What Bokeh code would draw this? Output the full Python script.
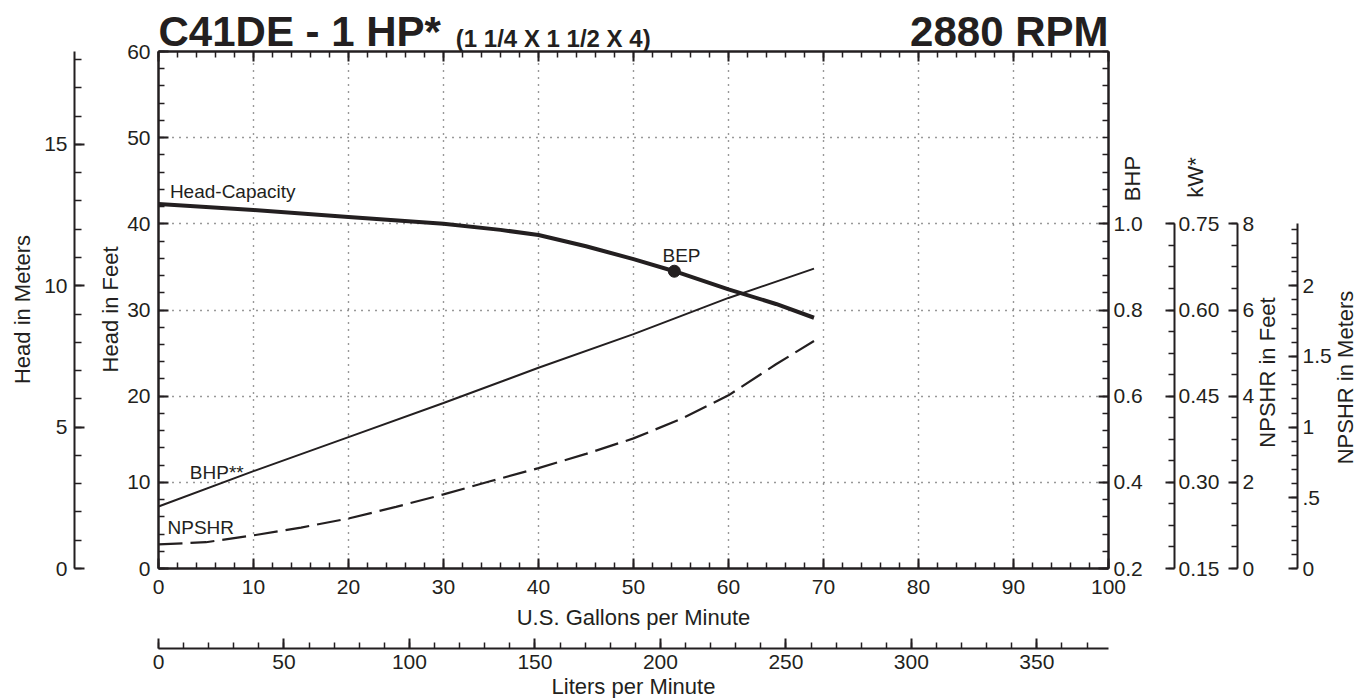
from math import pi
from bokeh.plotting import figure
from bokeh.models import LinearAxis, Range1d, FixedTicker, PrintfTickFormatter
from bokeh.embed import file_html
from bokeh.resources import INLINE
from bokeh.core.properties import value

# ---------------- data ----------------
head_gpm = [0, 10, 20, 30, 36, 40, 45, 50, 54.3, 60, 65, 69]
head_ft = [42.3, 41.6, 40.8, 40.0, 39.3, 38.7, 37.4, 35.9, 34.5, 32.4, 30.7, 29.1]

bhp_gpm = [0, 10, 20, 30, 40, 50, 60, 69]
bhp_val = [0.344, 0.426, 0.505, 0.584, 0.666, 0.744, 0.828, 0.896]

npshr_gpm = [0, 5, 10, 15, 20, 25, 30, 35, 40, 45, 50, 55, 60, 65, 69]
npshr_ft = [0.56, 0.61, 0.77, 0.95, 1.16, 1.43, 1.72, 2.03, 2.33, 2.66, 3.02, 3.47, 4.02, 4.74, 5.28]

bep_gpm = [54.3]
bep_ft = [34.5]

gpm_major = [0, 10, 20, 30, 40, 50, 60, 70, 80, 90, 100]
gpm_minor = list(range(0, 101, 2))
lpm_major = [0, 50, 100, 150, 200, 250, 300, 350]
lpm_minor = list(range(0, 371, 10))
ft_major = [0, 10, 20, 30, 40, 50, 60]
ft_minor = list(range(0, 61, 2))
m_major = [0, 5, 10, 15]
m_minor = list(range(0, 19, 1))
bhp_major = [0.2, 0.4, 0.6, 0.8, 1.0]
bhp_minor = [round(0.2 + 0.04 * i, 3) for i in range(31)]
kw_major = [0.15, 0.30, 0.45, 0.60, 0.75]
kw_minor = [round(0.15 + 0.0375 * i, 4) for i in range(17)]
nft_major = [0, 2, 4, 6, 8]
nft_minor = [0.5 * i for i in range(17)]
nm_major = [0, 0.5, 1, 1.5, 2]
nm_minor = [round(0.1 * i, 2) for i in range(25)]

FT_PER_M = 3.28084
L_PER_GAL = 3.78541

INK = "#231f20"
FONT = "Liberation Sans"

p = figure(frame_width=950, frame_height=517,
           x_range=Range1d(0, 100), y_range=Range1d(0, 60),
           output_backend="svg", toolbar_location=None,
           min_border_left=158, min_border_right=250,
           min_border_top=51, min_border_bottom=130,
           outline_line_color=None,
           background_fill_color="white", border_fill_color="white")

p.extra_y_ranges = {
    "bhp": Range1d(0.2, 1.4),
    "kw": Range1d(0.15, 1.05),
    "nft": Range1d(0, 12),
    "nm": Range1d(0, 12 / FT_PER_M),
    "m": Range1d(0, 60 / FT_PER_M),
}
p.extra_x_ranges = {"lpm": Range1d(0, 100 * L_PER_GAL)}


def style(ax, majors, minors, maj_in=10, min_in=6, standoff=6, lw=2.0, size="21px"):
    ax.ticker = FixedTicker(ticks=majors, minor_ticks=minors)
    ax.major_tick_in = maj_in
    ax.major_tick_out = 0
    ax.minor_tick_in = min_in
    ax.minor_tick_out = 0
    ax.axis_line_color = INK
    ax.axis_line_width = lw
    ax.major_tick_line_color = INK
    ax.major_tick_line_width = 2
    ax.minor_tick_line_color = INK
    ax.minor_tick_line_width = 1.5
    ax.major_label_text_font = FONT
    ax.major_label_text_font_size = size
    ax.major_label_text_color = INK
    ax.major_label_standoff = standoff


def spacer(n, **kw):
    # an empty axis whose only content is a blank 1px label pushed out by n px
    return LinearAxis(ticker=FixedTicker(ticks=[]), major_tick_out=0, major_tick_in=0,
                      minor_tick_out=0, minor_tick_in=0, axis_line_color=None,
                      major_tick_line_color=None, minor_tick_line_color=None,
                      major_label_standoff=0, axis_label=" ",
                      axis_label_standoff=n, axis_label_text_font_size="1px", **kw)


# bottom GPM axis + Liters axis
xa = p.xaxis[0]
style(xa, gpm_major, gpm_minor, standoff=11, lw=2.5)
p.add_layout(spacer(48), "below")
la = LinearAxis(x_range_name="lpm")
style(la, lpm_major, lpm_minor, maj_in=10, min_in=6, standoff=6)
p.add_layout(la, "below")

# top frame axis (ticks only)
ta = LinearAxis()
style(ta, gpm_major, gpm_minor, lw=2.5)
ta.major_label_overrides = {t: "" for t in gpm_major}
ta.major_label_standoff = 0
p.add_layout(ta, "above")

# left Feet axis + Meters axis
ya = p.yaxis[0]
style(ya, ft_major, ft_minor, standoff=8, lw=2.5)
p.add_layout(spacer(46), "left")
ma = LinearAxis(y_range_name="m")
style(ma, m_major, m_minor, maj_in=10, min_in=7, standoff=7)
p.add_layout(ma, "left")

# right axes
ba = LinearAxis(y_range_name="bhp")
style(ba, bhp_major, bhp_minor, maj_in=10, min_in=6, standoff=5, lw=2.5)
ba.formatter = PrintfTickFormatter(format="%.1f")
p.add_layout(ba, "right")
p.add_layout(spacer(25), "right")

ka = LinearAxis(y_range_name="kw", bounds=(0.15, 0.75))
style(ka, kw_major, kw_minor, maj_in=9, min_in=6, standoff=4)
ka.formatter = PrintfTickFormatter(format="%.2f")
p.add_layout(ka, "right")
p.add_layout(spacer(11), "right")

na = LinearAxis(y_range_name="nft", bounds=(0, 8))
style(na, nft_major, nft_minor, maj_in=9, min_in=6, standoff=5)
p.add_layout(na, "right")
p.add_layout(spacer(36), "right")

nma = LinearAxis(y_range_name="nm", bounds=(0, 8 / FT_PER_M))
style(nma, nm_major, nm_minor, maj_in=9, min_in=6, standoff=5)
nma.major_label_overrides = {0: "0", 0.5: ".5", 1: "1", 1.5: "1.5", 2: "2"}
p.add_layout(nma, "right")

# dotted grid
p.xgrid.ticker = FixedTicker(ticks=gpm_major[1:-1])
p.ygrid.ticker = FixedTicker(ticks=ft_major[1:-1])
for g in (p.xgrid[0], p.ygrid[0]):
    g.grid_line_color = "#333333"
    g.grid_line_width = 1.4
    g.grid_line_dash = "1 6"

# curves
p.line(head_gpm, head_ft, line_color=INK, line_width=4)
p.line(bhp_gpm, bhp_val, y_range_name="bhp", line_color=INK, line_width=2)
p.line(npshr_gpm, npshr_ft, y_range_name="nft", line_color=INK, line_width=2.2, line_dash="24 8")
p.scatter(bep_gpm, bep_ft, size=12, color=INK)


def txt(x, y, text, size="19px", bold=False, align="left", angle=0.0):
    p.text(x=[x], y=[y], text=[text], text_font=value(FONT), text_font_size=size,
           text_font_style="bold" if bold else "normal", text_color=INK,
           text_align=align, text_baseline="middle", angle=angle, level="overlay")


# curve labels
txt(1.2, 43.71, "Head-Capacity")
txt(3.3, 11.09, "BHP**")
txt(0.95, 4.71, "NPSHR")
txt(55.05, 36.28, "BEP", align="center")

# chart title
txt(0, 62.27, "C41DE - 1 HP*", size="42px", bold=True)
txt(31.3, 61.54, "(1 1/4 X 1 1/2 X 4)", size="24px", bold=True)
txt(100, 62.27, "2880 RPM", size="42px", bold=True, align="right")

# axis titles
txt(50, -5.74, "U.S. Gallons per Minute", size="22px", align="center")
txt(50, -13.69, "Liters per Minute", size="22px", align="center")
txt(-14.32, 30.06, "Head in Meters", size="22px", align="center", angle=pi / 2)
txt(-5.05, 30.06, "Head in Feet", size="22px", align="center", angle=pi / 2)
txt(102.53, 45.26, "BHP", size="22px", align="center", angle=pi / 2)
txt(109.16, 45.38, "kW*", size="22px", align="center", angle=pi / 2)
txt(116.74, 22.75, "NPSHR in Feet", size="22px", align="center", angle=pi / 2)
txt(124.95, 22.17, "NPSHR in Meters", size="22px", align="center", angle=pi / 2)

open("out.html", "w").write(file_html(p, INLINE))
